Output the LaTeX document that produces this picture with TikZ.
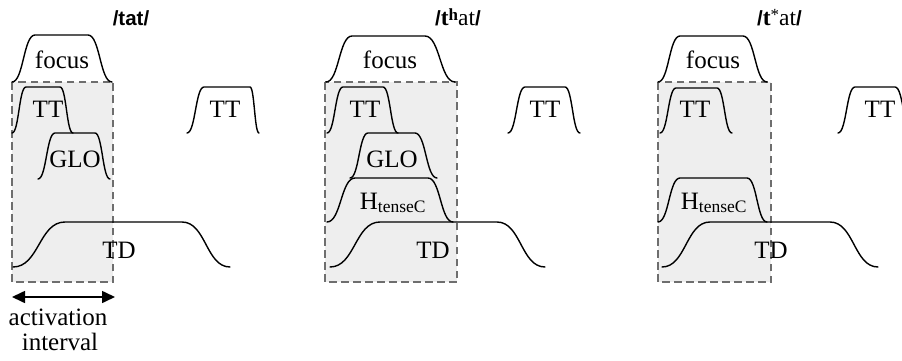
\documentclass[tikz,border=0pt]{standalone}
\usepackage{fontspec}
\setmainfont{Liberation Serif}
\setsansfont{Liberation Sans}
\usetikzlibrary{arrows.meta}

% one articulatory gesture: rise from x0 to x1, plateau to x2, fall to x3
\newcommand\gesture[6]{%
  \draw[curve] (#1,#5) .. controls ({(#1+#2)/2},#5) and ({(#1+#2)/2},#6) .. (#2,#6)
    -- (#3,#6) .. controls ({(#3+#4)/2},#6) and ({(#3+#4)/2},#5) .. (#4,#5);}
% pieces of the transcription titles
\newcommand\tslash{{\sffamily\bfseries /}}
\newcommand\tser[1]{{\fontsize{23.5}{24}\selectfont #1}}
\newcommand\tsup[1]{\raisebox{5.5pt}{\fontsize{17}{18}\selectfont #1}}

\definecolor{winfill}{HTML}{EEEEEE}
\definecolor{windraw}{HTML}{6E6E6E}

\tikzset{
  curve/.style={line width=1.4pt, line cap=round, black},
  window/.style={draw=windraw, fill=winfill, line width=1.8pt,
                 dash pattern=on 7.5pt off 4.5pt},
  lbl/.style={font=\fontsize{25}{27}\selectfont, inner sep=0pt, anchor=base},
  ttl/.style={font=\fontsize{20.5}{24}\selectfont, inner sep=0pt, anchor=base},
}

\begin{document}
\begin{tikzpicture}[x=1pt, y=-1pt]
\clip (0,0) rectangle (902,361);

% ---------- /tat/ ----------
\node[ttl] (title1) at (131,26) {\sffamily\bfseries /tat/};
\path[window] (12,82) rectangle (113,282);
\gesture{12}{35}{88}{112}{82}{35}
\gesture{12}{26}{60}{73}{133}{87}
\gesture{38}{55}{95}{110}{179}{133}
\gesture{13}{65}{182}{230}{267}{222}
\gesture{187}{204}{250}{259}{133}{87}
\node[lbl] (focus1) at (62,68) {focus};
\node[lbl] (tt1) at (48,117) {TT};
\node[lbl] (glo1) at (75,167) {GLO};
\node[lbl] (td1) at (119,258) {TD};
\node[lbl] (ttb1) at (225,117) {TT};
\coordinate (ai) at (12,297);
\coordinate (ae) at (115,297);
\draw[line width=1.6pt, {Triangle[length=13pt,width=12pt]}-{Triangle[length=13pt,width=12pt]}] (ai) -- (ae);
\node[lbl] (act) at (58,325) {activation};
\node[lbl] (intv) at (60,350) {interval};

% ---------- /t^h at/ ----------
\node[ttl, anchor=base west] (title2) at (435,26)
  {\tslash\tser{\bfseries t}\tsup{\bfseries h}\tser{at}\tslash};
\path[window] (325,82) rectangle (457,282);
\gesture{326}{352}{425}{455}{82}{36}
\gesture{327}{343}{383}{398}{133}{87}
\gesture{350}{368}{415}{437}{178}{133}
\gesture{327}{355}{428}{453}{222}{178}
\gesture{330}{380}{497}{545}{267}{222}
\gesture{508}{525}{565}{580}{133}{87}
\node[lbl] (focus2) at (390,68) {focus};
\node[lbl] (tt2) at (365,117) {TT};
\node[lbl] (glo2) at (392,167) {GLO};
\node[lbl] (ht2) at (393,209) {H\textsubscript{tenseC}};
\node[lbl] (td2) at (433,258) {TD};
\node[lbl] (ttb2) at (545,117) {TT};

% ---------- /t* at/ ----------
\node[ttl, anchor=base west] (title3) at (757,26)
  {\tslash\tser{\bfseries t}\tsup{*}\tser{at}\tslash};
\path[window] (658,82) rectangle (771,282);
\gesture{658}{680}{743}{767}{82}{36}
\gesture{660}{676}{717}{732}{133}{88}
\gesture{658}{680}{747}{767}{222}{178}
\gesture{662}{710}{830}{878}{267}{222}
\gesture{838}{855}{895}{912}{133}{87}
\node[lbl] (focus3) at (713,68) {focus};
\node[lbl] (tt3) at (695,117) {TT};
\node[lbl] (ht3) at (714,209) {H\textsubscript{tenseC}};
\node[lbl] (td3) at (771,258) {TD};
\node[lbl] (ttb3) at (880,117) {TT};
\end{tikzpicture}
\end{document}
